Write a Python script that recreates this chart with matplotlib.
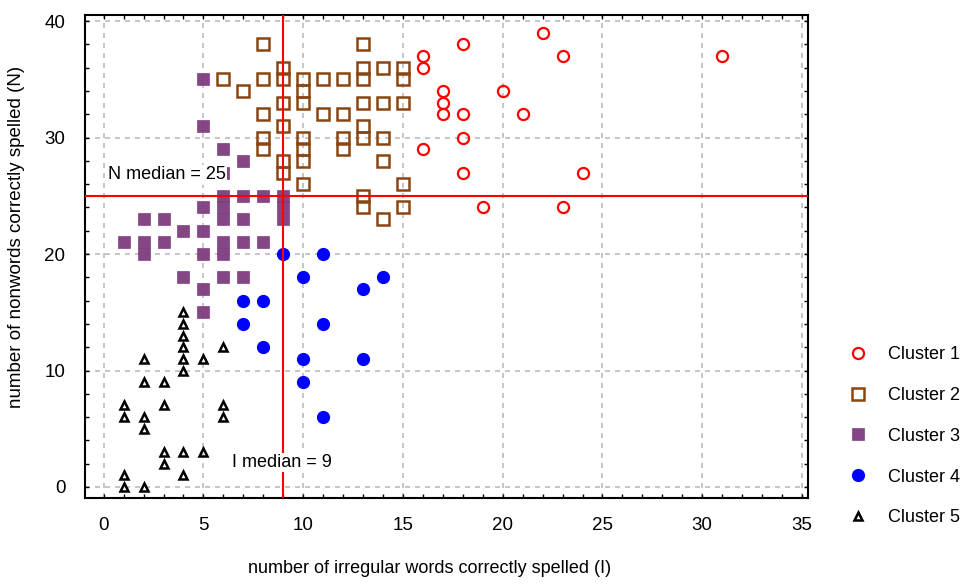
import matplotlib
matplotlib.use('Agg')
from matplotlib import pyplot as plt
from matplotlib.ticker import MultipleLocator

plt.rcParams['font.family'] = ['Liberation Sans Narrow', 'Liberation Sans', 'DejaVu Sans']

# cluster members: (irregular words I, nonwords N)
c1_x = [16, 16, 16, 17, 17, 17, 18, 18, 18, 18, 19, 20, 21, 22, 23, 23, 24, 31]
c1_y = [37, 36, 29, 34, 33, 32, 38, 32, 30, 27, 24, 34, 32, 39, 37, 24, 27, 37]

c2_x = [6, 7, 8, 8, 8, 8, 8, 9, 9, 9, 9, 9, 9, 10, 10, 10, 10, 10, 10, 10,
        11, 11, 12, 12, 12, 12, 13, 13, 13, 13, 13, 13, 13, 13,
        14, 14, 14, 14, 14, 15, 15, 15, 15, 15]
c2_y = [35, 34, 38, 35, 32, 30, 29, 36, 35, 33, 31, 28, 27, 35, 34, 33, 30, 29, 28, 26,
        35, 32, 35, 32, 30, 29, 38, 36, 35, 33, 31, 30, 25, 24,
        36, 33, 30, 28, 23, 36, 35, 33, 26, 24]

c3_x = [1, 2, 2, 2, 3, 3, 4, 4, 5, 5, 5, 5, 5, 5, 5, 6, 6, 6, 6, 6, 6, 6, 6,
        7, 7, 7, 7, 7, 8, 8, 9, 9, 9]
c3_y = [21, 20, 21, 23, 21, 23, 18, 22, 15, 17, 20, 22, 24, 31, 35, 18, 20, 21, 23, 24, 25, 27, 29,
        18, 21, 23, 25, 28, 21, 25, 23, 24, 25]

c4_x = [7, 7, 8, 8, 9, 10, 10, 10, 11, 11, 11, 13, 13, 14]
c4_y = [14, 16, 12, 16, 20, 9, 11, 18, 6, 14, 20, 11, 17, 18]

c5_x = [1, 1, 1, 1, 2, 2, 2, 2, 2, 3, 3, 3, 3, 4, 4, 4, 4, 4, 4, 4, 4, 5, 5, 6, 6, 6]
c5_y = [0, 1, 6, 7, 0, 5, 6, 9, 11, 2, 3, 7, 9, 1, 3, 10, 11, 12, 13, 14, 15, 3, 11, 6, 7, 12]

labels = ['Cluster 1', 'Cluster 2', 'Cluster 3', 'Cluster 4', 'Cluster 5']
median_i = 9
median_n = 25

fig = plt.figure(figsize=(9.63, 5.88), dpi=100)
ax = fig.add_axes([0.088, 0.153, 0.751, 0.821])

ax.plot(c1_x, c1_y, 'o', ls='none', mfc='none', mec='red', mew=1.6, ms=8, label=labels[0])
ax.plot(c2_x, c2_y, 's', ls='none', mfc='none', mec='#8b4513', mew=1.8, ms=8.5, label=labels[1])
ax.plot(c3_x, c3_y, 's', ls='none', mfc='#7d3c7d', mec='#7d3c7d', mew=0.5, alpha=0.95, ms=8.5, label=labels[2])
ax.plot(c4_x, c4_y, 'o', ls='none', mfc='blue', mec='blue', ms=8.5, label=labels[3])
ax.plot(c5_x, c5_y, '^', ls='none', mfc='none', mec='black', mew=1.8, ms=5.5, label=labels[4])

# medians
ax.axvline(median_i, color='red', lw=1.5, zorder=3)
ax.axhline(median_n, color='red', lw=1.5, zorder=3)
ax.text(0.2, 26.8, 'N median = %d' % median_n, fontsize=13, va='center', ha='left',
        bbox=dict(facecolor='white', edgecolor='none', pad=1), zorder=5)
ax.text(6.45, 2.1, 'I median = %d' % median_i, fontsize=13, va='center', ha='left',
        bbox=dict(facecolor='white', edgecolor='none', pad=1), zorder=5)

ax.set_xlim(-0.95, 35.3)
ax.set_ylim(-0.95, 40.5)
ax.xaxis.set_major_locator(MultipleLocator(5))
ax.xaxis.set_minor_locator(MultipleLocator(1))
ax.yaxis.set_major_locator(MultipleLocator(10))
ax.yaxis.set_minor_locator(MultipleLocator(2))
ax.grid(True, which='major', color='#bbbbbb', ls=(0, (3, 3)), lw=1.2)
ax.set_axisbelow(True)
ax.tick_params(axis='both', which='both', direction='in', top=True, right=True,
               length=3, width=1, labelsize=13.5)
ax.tick_params(axis='x', pad=14)
ax.tick_params(axis='y', pad=14)
for s in ax.spines.values():
    s.set_linewidth(1.5)

ax.set_xlabel('number of irregular words correctly spelled (I)', fontsize=13)
ax.set_ylabel('number of nonwords correctly spelled (N)', fontsize=13.5)
ax.xaxis.set_label_coords(0.477, -0.128)
ax.yaxis.set_label_coords(-0.082, 0.54)

fig.legend(loc='center left', bbox_to_anchor=(0.872, 0.258), frameon=False, fontsize=13,
           handlelength=1, handletextpad=1.2, labelspacing=1.32, borderpad=0)

plt.savefig('out.png', dpi=100)
